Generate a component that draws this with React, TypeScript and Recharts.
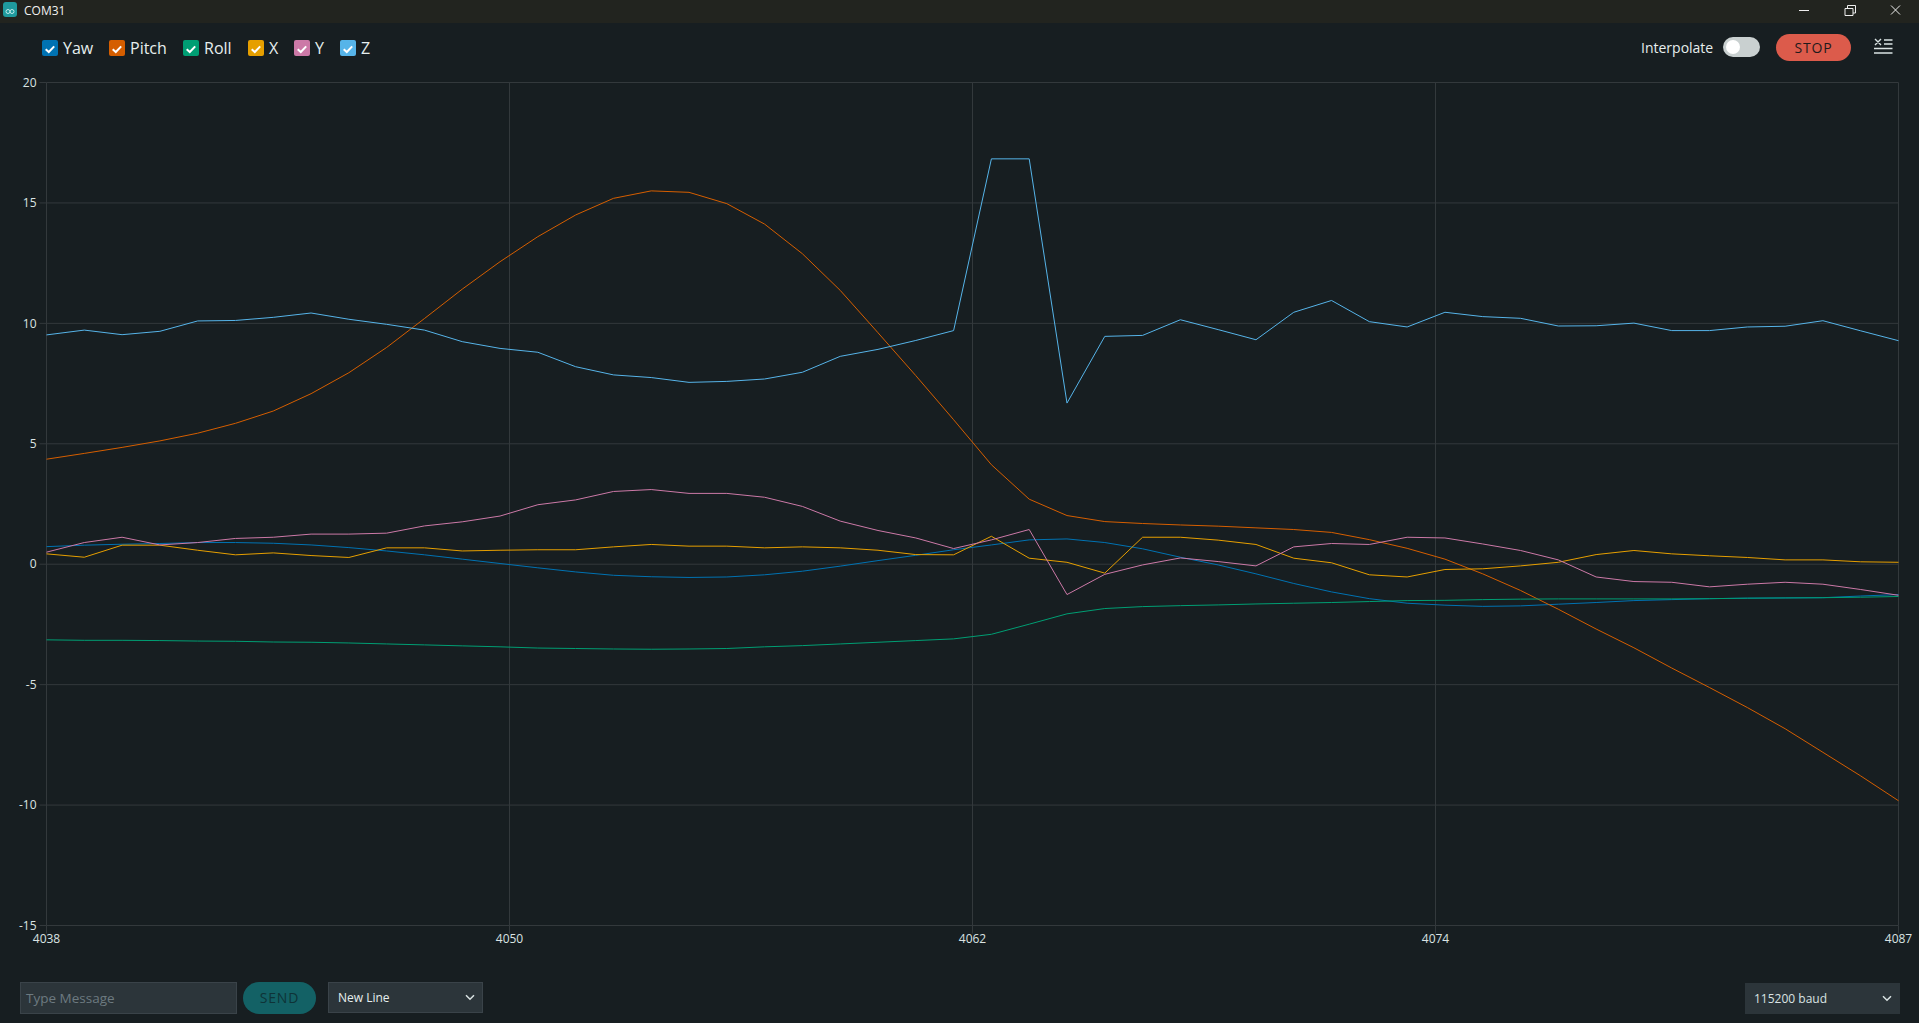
import React from "react";
import { LineChart, Line, XAxis, YAxis, CartesianGrid } from "recharts";

const firstSample = 4038;
const xTicks = [4038, 4050.25, 4062.5, 4074.75, 4087];
const yTicks = [-15, -10, -5, 0, 5, 10, 15, 20];

const yaw = [0.73,0.79,0.83,0.86,0.9,0.9,0.87,0.8,0.69,0.55,0.39,0.21,0.03,-0.15,-0.32,-0.46,-0.52,-0.55,-0.53,-0.44,-0.29,-0.08,0.15,0.37,0.6,0.8,1.01,1.05,0.9,0.64,0.29,-0.03,-0.4,-0.8,-1.15,-1.43,-1.62,-1.7,-1.75,-1.73,-1.66,-1.59,-1.51,-1.47,-1.43,-1.41,-1.4,-1.39,-1.32,-1.26];
const pitch = [4.36,4.6,4.85,5.12,5.44,5.85,6.36,7.08,7.95,9.0,10.2,11.42,12.56,13.6,14.5,15.19,15.5,15.44,14.97,14.12,12.89,11.37,9.61,7.83,6.0,4.13,2.7,2.02,1.77,1.69,1.63,1.58,1.51,1.44,1.32,1.02,0.66,0.21,-0.4,-1.09,-1.87,-2.69,-3.47,-4.31,-5.12,-5.95,-6.83,-7.81,-8.79,-9.82];
const roll = [-3.14,-3.16,-3.16,-3.17,-3.19,-3.2,-3.23,-3.24,-3.27,-3.31,-3.35,-3.39,-3.43,-3.48,-3.5,-3.52,-3.53,-3.52,-3.5,-3.43,-3.38,-3.31,-3.24,-3.17,-3.1,-2.91,-2.49,-2.06,-1.84,-1.76,-1.72,-1.69,-1.65,-1.62,-1.59,-1.55,-1.51,-1.5,-1.47,-1.45,-1.44,-1.44,-1.44,-1.44,-1.43,-1.41,-1.4,-1.39,-1.37,-1.34];
const xAccel = [0.43,0.29,0.79,0.79,0.58,0.39,0.47,0.36,0.28,0.68,0.68,0.55,0.58,0.6,0.6,0.72,0.82,0.75,0.75,0.68,0.72,0.68,0.58,0.4,0.39,1.16,0.25,0.08,-0.37,1.12,1.12,1.0,0.82,0.25,0.06,-0.44,-0.53,-0.22,-0.19,-0.07,0.08,0.4,0.57,0.43,0.35,0.28,0.18,0.18,0.1,0.08];
const yAccel = [0.5,0.9,1.12,0.8,0.9,1.07,1.12,1.25,1.25,1.29,1.59,1.76,2.0,2.47,2.67,3.02,3.1,2.94,2.94,2.78,2.4,1.79,1.4,1.09,0.65,1.01,1.44,-1.26,-0.42,-0.03,0.26,0.11,-0.07,0.72,0.86,0.82,1.12,1.09,0.84,0.57,0.18,-0.53,-0.72,-0.75,-0.94,-0.83,-0.75,-0.83,-1.05,-1.29];
const zAccel = [9.52,9.72,9.53,9.67,10.1,10.12,10.25,10.43,10.17,9.96,9.72,9.24,8.96,8.8,8.2,7.86,7.75,7.55,7.59,7.69,7.97,8.63,8.92,9.29,9.7,16.83,16.83,6.69,9.46,9.5,10.15,9.74,9.32,10.46,10.95,10.07,9.85,10.46,10.28,10.21,9.89,9.9,10.01,9.7,9.7,9.85,9.88,10.11,9.69,9.28];

const seriesNames = ["Yaw", "Pitch", "Roll", "X", "Y", "Z"];
const seriesColors = ["#0072B2", "#D55E00", "#009E73", "#E69F00", "#CC79A7", "#56B4E9"];
const seriesValues = [yaw, pitch, roll, xAccel, yAccel, zAccel];
const legendLefts = [42, 109, 183, 248, 294, 340];

const rows = yaw.map((_, i) => {
  const row: Record<string, number> = { sample: firstSample + i };
  seriesNames.forEach((n, s) => { row[n] = seriesValues[s][i]; });
  return row;
});

const FONT = '"Open Sans", sans-serif';
const BG = "#171e21";
const GRID = "#33393c";

const abs = (left: number, top: number, extra: React.CSSProperties = {}): React.CSSProperties => ({
  position: "absolute", left, top, boxSizing: "border-box", ...extra,
});

function Check({ color }: { color: string }) {
  return (
    <div style={abs(0, 2, { width: 16, height: 16, background: color, borderRadius: 2 })}>
      <svg width="16" height="16" viewBox="0 0 16 16">
        <path d="M3.7 8.2 L6.8 11 L12.2 5.4" fill="none" stroke="#fff" strokeWidth="2" />
      </svg>
    </div>
  );
}

function Chevron({ left, top }: { left: number; top: number }) {
  return (
    <svg style={abs(left, top)} width="10" height="7" viewBox="0 0 10 7">
      <path d="M1 1.2 L5 5.2 L9 1.2" fill="none" stroke="#dae3e3" strokeWidth="1.5" />
    </svg>
  );
}

export default function App() {
  return (
    <div style={abs(0, 0, { position: "fixed", width: 1919, height: 1023, background: BG, fontFamily: FONT, overflow: "hidden", color: "#dae3e3" })}>
      <div style={abs(0, 0, { width: 1919, height: 23, background: "#22241f" })} />
      <div style={abs(3, 2, { width: 14, height: 15, borderRadius: 3, background: "#1f9a9d" })}>
        <svg width="14" height="15" viewBox="0 0 14 15">
          <circle cx="5" cy="7.5" r="2" fill="none" stroke="#bfeaea" strokeWidth="1" />
          <circle cx="9" cy="7.5" r="2" fill="none" stroke="#bfeaea" strokeWidth="1" />
        </svg>
      </div>
      <div style={abs(24, 3, { fontSize: 12, lineHeight: "16px", color: "#f0f0f0" })}>COM31</div>
      <svg style={abs(1790, 0)} width="129" height="23" viewBox="0 0 129 23">
        <path d="M9 10.5 H19" stroke="#eee" strokeWidth="1" />
        <path d="M55 8.5 H63 V15.5 H55 Z M57.5 8 V5.5 H65.5 V13 H63" fill="none" stroke="#eee" strokeWidth="1" />
        <path d="M101 5.5 L110 14.5 M110 5.5 L101 14.5" stroke="#eee" strokeWidth="1" />
      </svg>

      {seriesNames.map((name, i) => (
        <div key={name} style={abs(legendLefts[i], 38, { height: 20 })}>
          <Check color={seriesColors[i]} />
          <span style={abs(21, -1, { fontSize: 16, lineHeight: "22px", color: "#e6eeee", whiteSpace: "nowrap" })}>{name}</span>
        </div>
      ))}

      <div style={abs(1641, 38, { fontSize: 14, lineHeight: "20px", color: "#e6eeee" })}>Interpolate</div>
      <div style={abs(1723, 37, { width: 37, height: 20, borderRadius: 10, background: "#c9d0d0" })}>
        <div style={abs(3, 3, { width: 14, height: 14, borderRadius: 7, background: "#fff" })} />
      </div>
      <div style={abs(1776, 34, { width: 75, height: 27, borderRadius: 14, background: "#dc5b4b", color: "#1f1a1c", fontSize: 14, lineHeight: "27px", textAlign: "center", letterSpacing: 0.8 })}>STOP</div>
      <svg style={abs(1873, 38)} width="20" height="18" viewBox="0 0 20 18">
        <path d="M2 1 L8 7 M8 1 L2 7 M11 2 H19.5 M11 6 H19.5" stroke="#dae3e3" strokeWidth="1.4" fill="none" />
        <path d="M1 10.5 H19.5 M1 15 H19.5" stroke="#dae3e3" strokeWidth="1.4" fill="none" />
      </svg>

      <div style={abs(0, 0)}>
        <LineChart width={1919} height={1023} data={rows} margin={{ top: 82.5, right: 20.5, bottom: 0, left: 0 }}>
          <CartesianGrid stroke={GRID} strokeWidth={1} horizontalValues={yTicks} verticalValues={xTicks} />
          <XAxis
            dataKey="sample"
            type="number"
            domain={[4038, 4087]}
            ticks={xTicks}
            interval={0}
            tickFormatter={(v: number) => String(Math.floor(v))}
            height={97.5}
            axisLine={false}
            tickLine={{ stroke: GRID }}
            tickSize={8}
            tickMargin={1}
            tick={{ fill: "#dae3e3", fontSize: 12, fontFamily: FONT }}
          />
          <YAxis
            type="number"
            domain={[-15, 20]}
            ticks={yTicks}
            interval={0}
            width={46.5}
            axisLine={false}
            tickLine={{ stroke: GRID }}
            tickSize={7}
            tickMargin={3}
            tick={{ fill: "#dae3e3", fontSize: 12, fontFamily: FONT }}
          />
          {seriesNames.map((name, i) => (
            <Line key={name} dataKey={name} type="linear" stroke={seriesColors[i]} strokeWidth={1} dot={false} isAnimationActive={false} />
          ))}
        </LineChart>
      </div>

      <div style={abs(20, 982, { width: 217, height: 32, background: "#2c353a", border: "1px solid #3a4349", color: "#6d7a80", fontSize: 13.5, lineHeight: "30px", paddingLeft: 5 })}>Type Message</div>
      <div style={abs(243, 982, { width: 73, height: 32, borderRadius: 16, background: "#136165", color: "#0e3337", fontSize: 14, lineHeight: "32px", textAlign: "center", letterSpacing: 0.8 })}>SEND</div>
      <div style={abs(328, 982, { width: 155, height: 31, background: "#2c353a", border: "1px solid #3a4349", color: "#e6eeee", fontSize: 12, lineHeight: "29px", paddingLeft: 9 })}>New Line</div>
      <Chevron left={465} top={994} />
      <div style={abs(1745, 983, { width: 155, height: 31, background: "#2c353a", color: "#dae3e3", fontSize: 12, lineHeight: "31px", paddingLeft: 9 })}>115200 baud</div>
      <Chevron left={1882} top={995} />
    </div>
  );
}
